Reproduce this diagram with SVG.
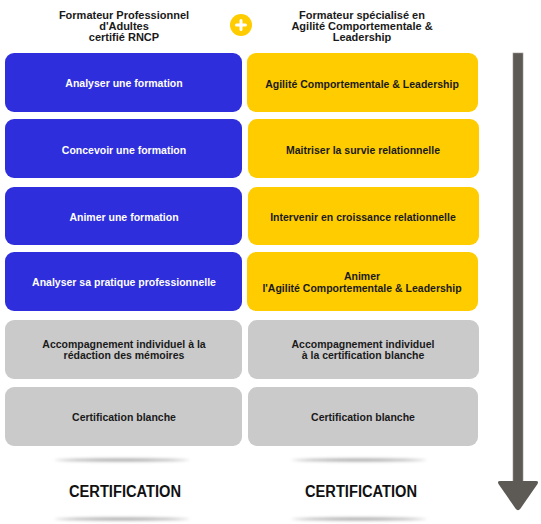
<svg xmlns="http://www.w3.org/2000/svg" width="541" height="524" viewBox="0 0 541 524">
<defs>
<style>
.t{font-family:"Liberation Sans","DejaVu Sans",sans-serif;font-weight:bold;font-size:10.5px;text-anchor:middle;}
.w{fill:#ffffff;}
.d{fill:#1a1a1a;}
.h{font-family:"Liberation Sans","DejaVu Sans",sans-serif;font-weight:bold;font-size:11px;text-anchor:middle;fill:#1a1a1a;}
.c{font-family:"Liberation Sans","DejaVu Sans",sans-serif;font-weight:bold;font-size:16px;text-anchor:middle;fill:#111111;}
.blue{fill:#2e2edc;}
.yel{fill:#ffcc00;}
.gray{fill:#cacaca;}
.sh{fill:url(#shg);filter:url(#blur);}
</style>
<radialGradient id="shg" cx="0.5" cy="0.5" r="0.5">
<stop offset="0" stop-color="#9a9a9a"/>
<stop offset="0.7" stop-color="#b4b4b4"/>
<stop offset="1" stop-color="#dcdcdc"/>
</radialGradient>
<filter id="blur" x="-20%" y="-300%" width="140%" height="700%"><feGaussianBlur stdDeviation="1.5"/></filter>
</defs>
<rect width="541" height="524" fill="#ffffff"/>

<g id="header">
<text class="h" x="124" y="19">Formateur Professionnel</text>
<text class="h" x="124" y="30">d'Adultes</text>
<text class="h" x="124" y="41">certifié RNCP</text>
<text class="h" x="362" y="19">Formateur spécialisé en</text>
<text class="h" x="362" y="30">Agilité Comportementale &amp;</text>
<text class="h" x="362" y="41">Leadership</text>
</g>
<g id="plus">
<circle cx="241" cy="25" r="11" fill="#ffcc00"/>
<path d="M241 20.5v9M236.5 25h9" stroke="#ffffff" stroke-width="3" stroke-linecap="round"/>
</g>

<g id="l1"><rect class="blue" x="5" y="53" width="237" height="59" rx="9"/><text class="t w" x="124" y="87">Analyser une formation</text></g>
<g id="l2"><rect class="blue" x="5" y="119" width="237" height="59" rx="9"/><text class="t w" x="124" y="154">Concevoir une formation</text></g>
<g id="l3"><rect class="blue" x="5" y="187" width="237" height="58" rx="9"/><text class="t w" x="124" y="221">Animer une formation</text></g>
<g id="l4"><rect class="blue" x="5" y="252" width="237" height="59" rx="9"/><text class="t w" x="124" y="286">Analyser sa pratique professionnelle</text></g>
<g id="l5"><rect class="gray" x="5" y="320" width="237" height="59" rx="9"/><text class="t d" x="124" y="348">Accompagnement individuel à la</text><text class="t d" x="124" y="359">rédaction des mémoires</text></g>
<g id="l6"><rect class="gray" x="5" y="387" width="237" height="59" rx="9"/><text class="t d" x="124" y="421">Certification blanche</text></g>

<g id="r1"><rect class="yel" x="247" y="53" width="231" height="59" rx="9"/><text class="t d" x="362" y="88">Agilité Comportementale &amp; Leadership</text></g>
<g id="r2"><rect class="yel" x="248" y="119" width="231" height="59" rx="9"/><text class="t d" x="363" y="154">Maitriser la survie relationnelle</text></g>
<g id="r3"><rect class="yel" x="248" y="187" width="231" height="58" rx="9"/><text class="t d" x="363" y="221">Intervenir en croissance relationnelle</text></g>
<g id="r4"><rect class="yel" x="247" y="252" width="231" height="59" rx="9"/><text class="t d" x="362" y="280">Animer</text><text class="t d" x="362" y="292">l'Agilité Comportementale &amp; Leadership</text></g>
<g id="r5"><rect class="gray" x="248" y="320" width="231" height="59" rx="9"/><text class="t d" x="363" y="348">Accompagnement individuel</text><text class="t d" x="363" y="359">à la certification blanche</text></g>
<g id="r6"><rect class="gray" x="248" y="387" width="230" height="59" rx="9"/><text class="t d" x="363" y="421">Certification blanche</text></g>

<g id="certL">
<ellipse class="sh" cx="122" cy="460" rx="68" ry="1.8"/>
<text class="c" x="125" y="497" textLength="112" lengthAdjust="spacingAndGlyphs">CERTIFICATION</text>
<ellipse class="sh" cx="122" cy="519" rx="68" ry="1.8"/>
</g>
<g id="certR">
<ellipse class="sh" cx="359" cy="460" rx="68" ry="1.8"/>
<text class="c" x="361" y="497" textLength="112" lengthAdjust="spacingAndGlyphs">CERTIFICATION</text>
<ellipse class="sh" cx="359" cy="519" rx="68" ry="1.8"/>
</g>

<g id="connectors">
<rect x="513" y="53" width="10" height="430" fill="#5d5955" stroke="#9a9591" stroke-width="0.6"/>
<path d="M500 481 L536 481 Q539 481 537.5 484 L520.5 508.5 Q518 512 515.5 508.5 L498.5 484 Q497 481 500 481 Z" fill="#5d5955"/>
</g>
</svg>
